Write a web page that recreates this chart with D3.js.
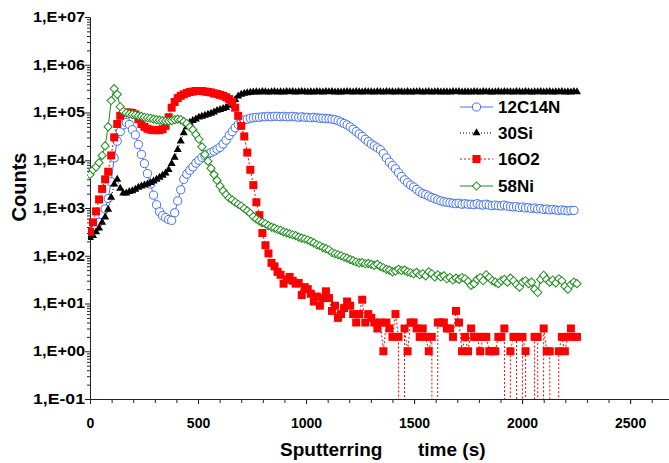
<!DOCTYPE html>
<html>
<head>
<meta charset="utf-8">
<script src="https://cdn.jsdelivr.net/npm/d3@7/dist/d3.min.js"></script>
<style>
  body { margin: 0; background: #fff; }
  text { font-family: Arial, "Liberation Sans", sans-serif; font-weight: bold; fill: #000; }
</style>
</head>
<body>
<div class="chart"></div>
<script>
// sputtering time (s), one acquisition cycle every 14 s
var time = d3.range(0, 2255, 14);

// counts per series
var cn = [
  295, 339, 398, 501, 724, 955, 1580, 3550, 11200, 25100,
  39800, 55000, 61700, 56200, 43700, 33900, 21400, 13200, 8510, 5250,
  3160, 1860, 1170, 832, 692, 631, 575, 550, 794, 1410,
  2400, 3980, 5130, 6170, 7240, 8710, 10000, 11500, 12600, 13500,
  14500, 15500, 17000, 18600, 21900, 26300, 33100, 39800, 47900, 56200,
  63100, 69200, 72400, 75900, 77600, 79400,
  79400, 81300, 81300, 83200, 81300, 83200, 83200, 81300, 83200, 81300, 81300, 83200,
  81300, 79400, 81300, 79400, 79400, 77600, 79400, 77600, 75900, 75900, 74100,
  74100, 72400, 70800, 67600, 63100, 58900, 55000, 50100, 44700, 39800, 35500,
  31600, 27500, 24500, 21900, 20000, 18200, 16600, 13800, 11200, 9120,
  7760, 6610, 5500, 4570, 3890, 3390, 3020, 2750, 2450, 2190,
  2000, 1910, 1780, 1660, 1580, 1480, 1410, 1350, 1320, 1290,
  1260, 1230, 1260, 1200, 1230, 1200, 1200, 1170, 1230, 1170, 1150, 1200, 1150, 1120,
  1150, 1120, 1100, 1150, 1100, 1070, 1050, 1070, 1020, 1050, 1000, 1020, 977, 1000,
  955, 977, 933, 955, 912, 933, 912, 891, 912, 891, 871, 891, 891
];
var si = [
  240, 263, 316, 380, 501, 646, 933, 1660, 3160, 3980,
  2570, 2040, 2040, 2190, 2290, 2450, 2690, 2880, 3020, 3160,
  3390, 3630, 3980, 4370, 4790, 5370, 6310, 8510, 11500, 16600,
  25100, 37200, 50100, 61700, 67600, 72400, 79400, 83200, 87100, 91200,
  95500, 102000, 110000, 115000, 120000, 126000, 141000, 158000, 186000, 219000,
  240000, 251000, 257000, 263000,
  266000, 270000, 268000, 272000, 269000, 265000, 271000, 274000, 268000, 270000, 266000, 272000,
  269000, 273000, 267000, 270000, 275000, 269000, 266000, 271000, 268000, 273000, 270000, 267000,
  272000, 269000, 274000, 268000, 271000, 266000, 270000, 273000, 269000, 267000, 272000, 270000,
  268000, 274000, 269000, 271000, 266000, 272000, 270000, 268000, 275000, 269000, 271000, 267000,
  273000, 270000, 268000, 272000, 266000, 271000, 269000, 274000, 268000, 270000, 272000, 267000,
  270000, 273000, 268000, 271000, 269000, 266000, 272000, 270000, 274000, 268000, 271000, 269000,
  267000, 272000, 270000, 268000, 273000, 269000, 271000, 266000, 270000, 274000, 268000, 272000,
  269000, 271000, 267000, 273000, 270000, 268000, 272000, 269000, 266000, 271000, 270000, 273000,
  268000, 270000, 272000, 267000, 271000, 269000, 273000, 268000, 270000, 266000, 272000, 269000
];
var o2 = [
  316, 501, 851, 1510, 2510, 3980, 5750, 12600, 30200, 57500,
  85100, 97700, 100000, 100000, 97700, 91200, 72400, 57500, 50100, 45700,
  43700, 42700, 42700, 42700, 44700, 52500, 79400, 126000, 166000, 200000,
  224000, 240000, 257000, 269000, 275000, 282000, 282000, 282000, 275000, 269000,
  263000, 251000, 245000, 234000, 224000, 209000, 191000, 166000, 126000, 85100,
  52500, 31600, 14500, 6310, 3020,
  1320, 708, 300, 166, 112, 71, 60, 46, 40, 26,
  32, 36, 30, 26, 27, 15, 22, 20, 16, 11,
  14, 9, 13, 18, 13, 7, 9, 5, 6, 8,
  11, 9, 6, 4, 6, 12, 4, 6, 5, 4,
  3, 4, 1, 4, 3, 2, 6, 2, 0, 3,
  1, 4, 4, 3, 2, 3, 2, 1, 2, 0,
  4, 4, 4, 3, 3, 2, 7, 4, 1, 2,
  1, 3, 2, 2, 1, 2, 2, 1, 1, 1,
  2, 2, 3, 0, 1, 2, 2, 0, 2, 1,
  0, 0, 2, 2, 0, 3, 1, 1, 0, 0,
  1, 2, 1, 2, 3, 2, 2
];
var ni = [
  5010, 6310, 7240, 8910, 12600, 20000, 50100, 178000, 316000, 240000,
  132000, 105000, 97700, 93300, 91200, 89100, 85100, 83200, 79400, 77600,
  75900, 72400, 70800, 69200, 67600, 66100, 66100, 67600, 70800, 72400,
  70800, 64600, 58900, 50100, 43700, 34700, 27500, 19100, 13200, 9550,
  6760, 5010, 3800, 2880, 2290, 1910, 1620, 1480, 1320, 1200,
  1100, 977, 871, 776, 661, 589, 537, 501, 468, 427,
  398, 380, 355, 339, 316, 302, 288, 275, 263, 245,
  234, 224, 214, 200, 186, 170, 162, 148, 141, 132,
  117, 110, 105, 100, 93, 89, 83, 79, 74, 71,
  72, 68, 69, 66, 63, 66, 60, 56, 52, 50,
  46, 48, 52, 49, 50, 46, 44, 42, 45, 40,
  42, 38, 46, 42, 36, 40, 36, 38, 33, 35,
  31, 34, 32, 35, 33, 29, 24, 26, 32, 35,
  30, 40, 35, 30, 28, 26, 30, 32, 28, 34,
  30, 25, 22, 28, 30, 26, 28, 20, 17, 32,
  39, 32, 28, 31, 27, 33, 30, 23, 20, 25,
  28, 26
];

var seriesNames = ["12C14N", "30Si", "16O2", "58Ni"];
var xTicks = [0, 500, 1000, 1500, 2000, 2500];
var yTicks = [1e-1, 1e0, 1e1, 1e2, 1e3, 1e4, 1e5, 1e6, 1e7];

var series = [
  {name: seriesNames[0], values: cn, color: "#4270f2", dash: null, symbol: d3.symbolCircle, size: 52, fill: "#fff", rotate: 0},
  {name: seriesNames[1], values: si, color: "#000", dash: "1,2", symbol: d3.symbolTriangle, size: 28, fill: "#000", rotate: 0},
  {name: seriesNames[2], values: o2, color: "#ff0000", dash: "2,2", symbol: d3.symbolSquare, size: 64, fill: "#ff0000", rotate: 0},
  {name: seriesNames[3], values: ni, color: "#1e8c1e", dash: null, symbol: d3.symbolSquare, size: 34, fill: "#fff", rotate: 45}
];

var svgWidth = 669;
var svgHeight = 463;

var svg = d3.select(".chart")
  .append("svg")
  .attr("width", svgWidth)
  .attr("height", svgHeight);

var xScale = d3.scaleLinear().domain([0, 2680]).range([90, 669]);
var yScale = d3.scaleLog().domain([1e-1, 1e7]).range([399, 17]);

// plot clip, zero counts drop down out of the frame
svg.append("clipPath").attr("id", "plot")
  .append("rect").attr("x", 88).attr("y", 0).attr("width", 600).attr("height", 399);

// y axis: decades plus minor 2..9
var minorY = [];
yTicks.slice(0, -1).forEach(function(d) {
  for (var k = 2; k < 10; k++) minorY.push(d * k);
});

function sci(d) {
  var e = Math.round(Math.log10(d));
  return "1,E" + (e < 0 ? "-" : "+") + String(Math.abs(e)).padStart(2, "0");
}

var yAxisG = svg.append("g").attr("transform", "translate(" + xScale(0) + ",0)");
yAxisG.append("g")
  .call(d3.axisLeft(yScale).tickValues(minorY).tickSize(3).tickSizeOuter(0).tickFormat(""));
yAxisG.append("g")
  .call(d3.axisLeft(yScale).tickValues(yTicks).tickSize(5).tickSizeOuter(0).tickPadding(0).tickFormat(sci));
yAxisG.selectAll("text")
  .attr("font-size", 14)
  .attr("font-family", "Arial, 'Liberation Sans', sans-serif")
  .attr("font-weight", "bold")
  .attr("textLength", 52)
  .attr("lengthAdjust", "spacingAndGlyphs");

// x axis
var minorX = d3.range(0, 2700, 100);
var xAxisG = svg.append("g").attr("transform", "translate(0," + yScale(1e-1) + ")");
xAxisG.append("g")
  .call(d3.axisBottom(xScale).tickValues(minorX).tickSize(4).tickSizeOuter(0).tickFormat(""));
xAxisG.append("g")
  .call(d3.axisBottom(xScale).tickValues(xTicks).tickSize(5).tickSizeOuter(0).tickPadding(14).tickFormat(d3.format("d")));
xAxisG.selectAll("text")
  .attr("font-size", 14)
  .attr("font-family", "Arial, 'Liberation Sans', sans-serif")
  .attr("font-weight", "bold");

svg.selectAll(".domain, .tick line").attr("stroke", "#222");

// series
var plot = svg.append("g").attr("clip-path", "url(#plot)");

series.forEach(function(s) {
  var line = d3.line()
    .x(function(d, i) { return xScale(time[i]); })
    .y(function(d) { return yScale(Math.max(d, 1e-30)); });

  plot.append("path")
    .datum(s.values)
    .attr("fill", "none")
    .attr("stroke", s.color)
    .attr("stroke-width", 1)
    .attr("stroke-dasharray", s.dash)
    .attr("d", line);

  plot.append("g").selectAll("path")
    .data(s.values.map(function(v, i) { return {t: time[i], v: v}; }).filter(function(d) { return d.v > 0; }))
    .enter()
    .append("path")
    .attr("d", d3.symbol(s.symbol, s.size))
    .attr("transform", function(d) { return "translate(" + xScale(d.t) + "," + yScale(d.v) + ") rotate(" + s.rotate + ")"; })
    .attr("fill", s.fill)
    .attr("stroke", s.color)
    .attr("stroke-width", s.fill === "#fff" ? 1 : 0);
});

// legend
var legend = svg.append("g").attr("transform", "translate(460,0)");
var legendY = [107, 133, 159, 186];
series.forEach(function(s, i) {
  var g = legend.append("g").attr("transform", "translate(0," + legendY[i] + ")");
  g.append("line")
    .attr("x1", 0).attr("x2", 33).attr("y1", 0).attr("y2", 0)
    .attr("stroke", s.color).attr("stroke-width", 1)
    .attr("stroke-dasharray", s.dash);
  g.append("path")
    .attr("d", d3.symbol(s.symbol, s.size))
    .attr("transform", "translate(16.5,0) rotate(" + s.rotate + ")")
    .attr("fill", s.fill)
    .attr("stroke", s.color)
    .attr("stroke-width", s.fill === "#fff" ? 1 : 0);
  g.append("text")
    .attr("x", 38).attr("y", 6)
    .attr("font-size", 17)
    .text(s.name);
});

// axis titles
svg.append("text")
  .attr("transform", "translate(26,187) rotate(-90)")
  .attr("text-anchor", "middle")
  .attr("font-size", 20)
  .text("Counts");

svg.append("text")
  .attr("x", 280).attr("y", 456)
  .attr("font-size", 19)
  .text("Sputterring");
svg.append("text")
  .attr("x", 418).attr("y", 456)
  .attr("font-size", 19)
  .text("time (s)");
</script>
</body>
</html>
